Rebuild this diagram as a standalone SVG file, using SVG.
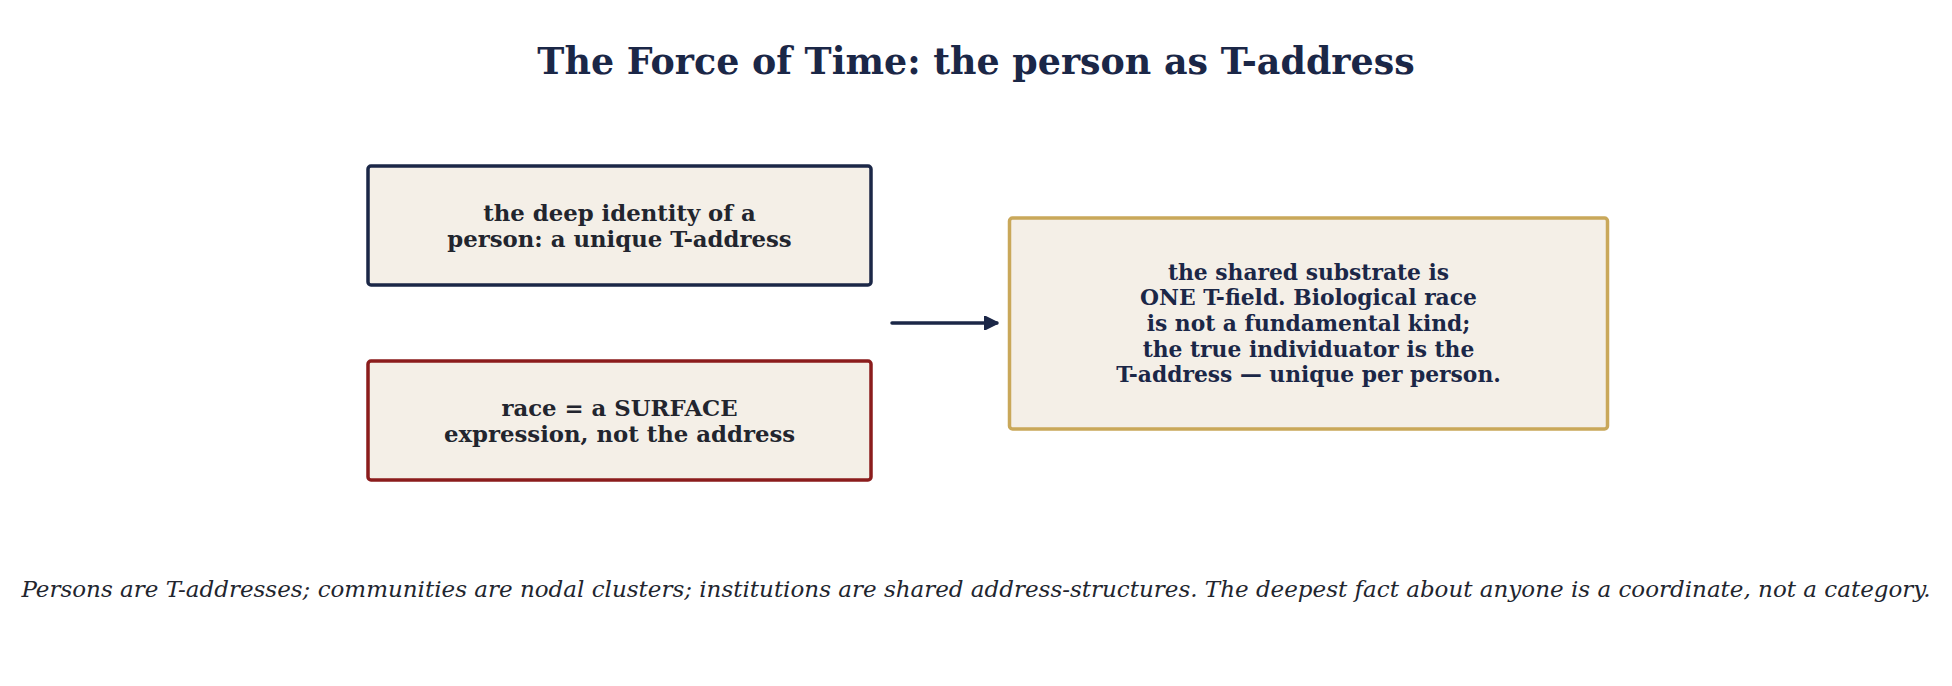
<svg xmlns="http://www.w3.org/2000/svg" width="1952" height="686" viewBox="0 0 1952 686">
<style>
.title{font-family:"DejaVu Serif",serif;font-weight:bold;font-size:36.4px;fill:#1b2747;text-anchor:middle;dominant-baseline:central}
.box{fill:#f4efe7;stroke-width:3.5}
.lt{font-family:"DejaVu Serif",serif;font-weight:bold;font-size:22.8px;fill:#22252e;text-anchor:middle;dominant-baseline:central}
.rt{font-family:"DejaVu Serif",serif;font-weight:bold;font-size:21.8px;fill:#1b2747;text-anchor:middle;dominant-baseline:central}
.foot{font-family:"DejaVu Serif",serif;font-style:italic;font-size:23px;fill:#22252e;text-anchor:middle;dominant-baseline:central}
.conn{stroke:#1b2747;stroke-width:3.5;stroke-linecap:round;fill:none}
</style>
<defs>
<marker id="ah" viewBox="0 0 10 10" refX="9" refY="5" markerWidth="4" markerHeight="4" orient="auto" markerUnits="strokeWidth">
<path d="M0,0 L10,5 L0,10 Z" fill="#1b2747" stroke="#1b2747" stroke-linejoin="round"/>
</marker>
</defs>
<rect width="1952" height="686" fill="#ffffff"/>
<text class="title" x="976" y="61">The Force of Time: the person as T-address</text>
<g id="node-identity">
<rect class="box" x="368" y="166" width="503" height="119" rx="3" stroke="#1b2747"/>
<text class="lt" x="619.5" y="212.5">the deep identity of a</text>
<text class="lt" x="619.5" y="238.5">person: a unique T-address</text>
</g>
<g id="node-race">
<rect class="box" x="368" y="361" width="503" height="119" rx="3" stroke="#8b1c1c"/>
<text class="lt" x="619.5" y="407.5">race = a SURFACE</text>
<text class="lt" x="619.5" y="433.5">expression, not the address</text>
</g>
<g id="node-substrate">
<rect class="box" x="1009.5" y="218" width="598" height="211" rx="3" stroke="#c9a85a"/>
<text class="rt" x="1308.5" y="272.3">the shared substrate is</text>
<text class="rt" x="1308.5" y="297.9">ONE T-field. Biological race</text>
<text class="rt" x="1308.5" y="323.5">is not a fundamental kind;</text>
<text class="rt" x="1308.5" y="349.1">the true individuator is the</text>
<text class="rt" x="1308.5" y="374.7">T-address — unique per person.</text>
</g>
<g id="connectors">
<line class="conn" x1="892" y1="323" x2="997" y2="323" marker-end="url(#ah)"/>
</g>
<text class="foot" x="976" y="589">Persons are T-addresses; communities are nodal clusters; institutions are shared address-structures. The deepest fact about anyone is a coordinate, not a category.</text>
</svg>
